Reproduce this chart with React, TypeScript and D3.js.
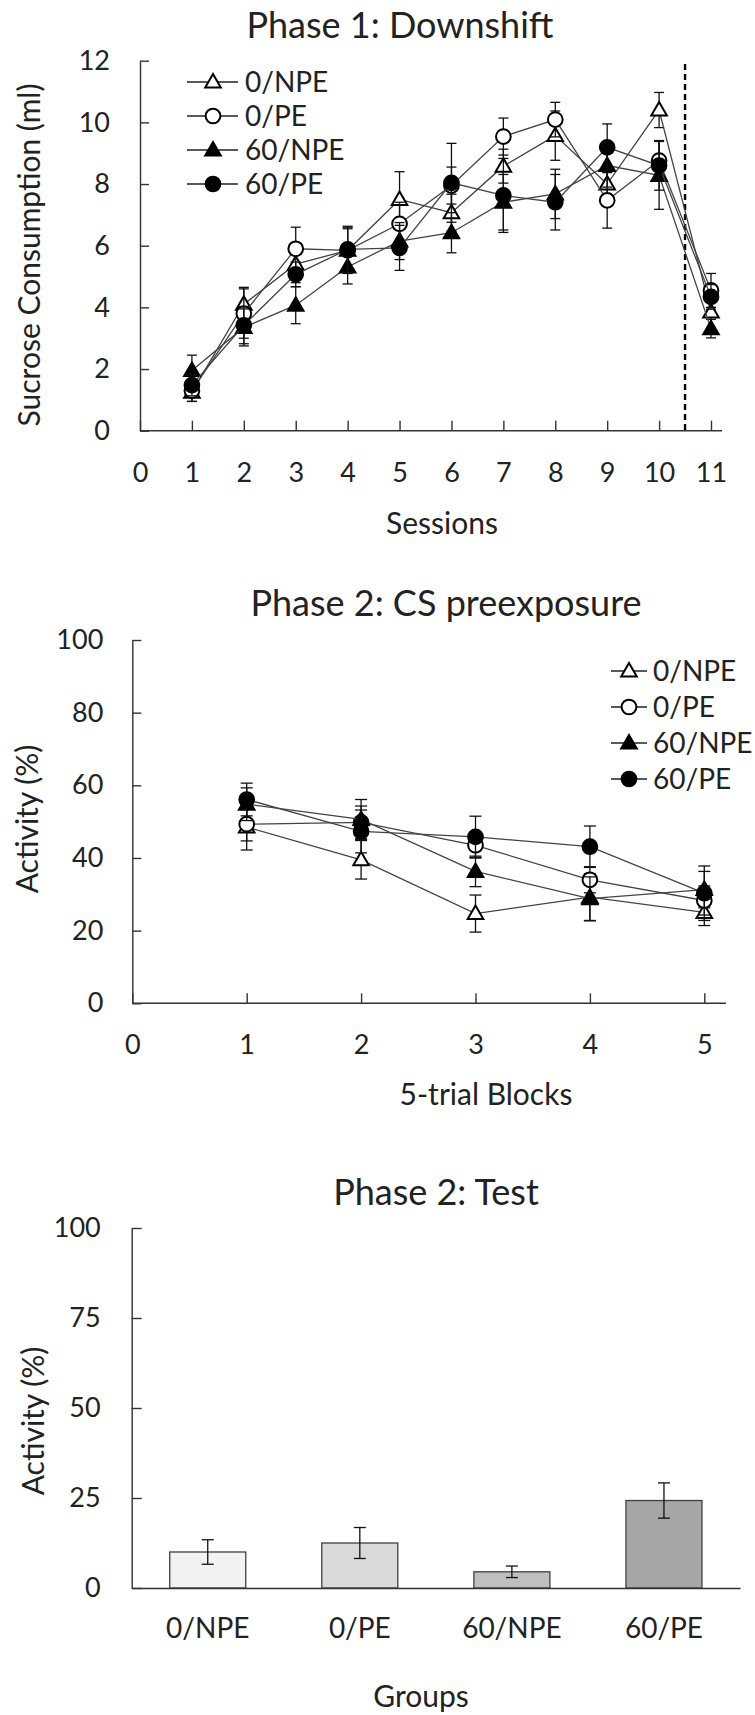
import React, { useEffect, useRef } from 'react';
import * as d3 from 'd3';

// groups / legend
const groups = ['0/NPE', '0/PE', '60/NPE', '60/PE'];
const markerShapes = ['triangle', 'circle', 'triangle', 'circle'];
const markerFilled = [false, false, true, true];

// Phase 1: Downshift (ml), sessions 1-11
const sessions = [1, 2, 3, 4, 5, 6, 7, 8, 9, 10, 11];
const sessionTicks = [0, 1, 2, 3, 4, 5, 6, 7, 8, 9, 10, 11];
const mlTicks = [0, 2, 4, 6, 8, 10, 12];
const down0NPE = [1.25, 4.1, 5.4, 5.85, 7.5, 7.07, 8.58, 9.57, 8.0, 10.4, 3.85];
const down0PE = [1.3, 3.8, 5.9, 5.85, 6.71, 7.95, 9.54, 10.09, 7.47, 8.76, 4.55];
const down60NPE = [1.95, 3.35, 4.07, 5.31, 6.15, 6.42, 7.41, 7.68, 8.6, 8.28, 3.31];
const down60PE = [1.48, 3.42, 5.07, 5.88, 5.93, 8.04, 7.63, 7.41, 9.19, 8.6, 4.34];
const downErr0NPE = [0.3, 0.55, 0.6, 0.75, 0.9, 0.6, 0.55, 0.8, 0.6, 0.57, 0.5];
const downErr0PE = [0.35, 0.8, 0.7, 0.7, 0.7, 0.6, 0.6, 0.56, 0.9, 0.65, 0.55];
const downErr60NPE = [0.5, 0.6, 0.6, 0.55, 0.6, 0.65, 0.9, 0.8, 0.7, 1.1, 0.3];
const downErr60PE = [0.35, 0.6, 0.4, 0.75, 0.73, 1.28, 1.2, 0.9, 0.76, 0.8, 0.4];

// Phase 2: CS preexposure (%), blocks 1-5
const blocks = [1, 2, 3, 4, 5];
const blockTicks = [0, 1, 2, 3, 4, 5];
const pctTicks = [0, 20, 40, 60, 80, 100];
const pre0NPE = [48.5, 39.5, 24.7, 29.2, 25];
const pre0PE = [49.3, 49.8, 43.5, 34, 28.3];
const pre60NPE = [54.8, 50.6, 36.3, 28.8, 31.3];
const pre60PE = [56.1, 47.3, 45.8, 43.1, 30.3];
const preErr0NPE = [6.3, 5.3, 5.1, 6.5, 3.6];
const preErr0PE = [4.6, 4.5, 3.5, 3.6, 4];
const preErr60NPE = [4.5, 5.5, 4.2, 6, 5];
const preErr60PE = [4.5, 5.9, 5.7, 5.7, 7.5];

// Phase 2: Test (%)
const testValues = [10, 12.5, 4.5, 24.3];
const testErrors = [3.4, 4.3, 1.6, 4.9];
const testTicks = [0, 25, 50, 75, 100];
const barColors = ['#f2f2f2', '#d9d9d9', '#bfbfbf', '#a6a6a6'];

const FONT = 'Lato, "Open Sans", sans-serif';
const INK = '#222';

function drawMarker(g, shape, filled, x, y) {
  const sym = shape === 'triangle' ? d3.symbolTriangle : d3.symbolCircle;
  const size = shape === 'triangle' ? 105 : 170;
  g.append('path')
    .attr('d', d3.symbol(sym, size)())
    .attr('transform', `translate(${x},${y + (shape === 'triangle' ? 1 : 0)})`)
    .attr('fill', filled ? '#000' : '#fff')
    .attr('stroke', '#000')
    .attr('stroke-width', 2);
}

function lineChart(svg, o) {
  const x = d3.scaleLinear().domain(o.xDomain).range([o.left, o.xEnd]);
  const y = d3.scaleLinear().domain(o.yDomain).range([o.bottom, o.top]);

  svg.append('text')
    .attr('x', o.titleX).attr('y', o.titleY).attr('dy', '0.35em')
    .attr('text-anchor', 'middle').attr('font-size', 36).attr('fill', INK)
    .text(o.title);

  // y axis, ticks inside
  const ya = svg.append('g')
    .attr('transform', `translate(${o.left},0)`)
    .call(d3.axisLeft(y).tickValues(o.yTicks).tickFormat(d3.format('d'))
      .tickSizeInner(-9).tickSizeOuter(0).tickPadding(o.yPad));
  ya.select('.domain').attr('stroke', '#333').attr('stroke-width', 1.4);
  ya.selectAll('.tick line').attr('stroke', '#333').attr('stroke-width', 1.4);
  ya.selectAll('text').attr('font-size', 27).attr('font-family', FONT).attr('fill', INK);

  // x axis, ticks inside
  const xa = svg.append('g')
    .attr('transform', `translate(0,${o.bottom})`)
    .call(d3.axisBottom(x).tickValues(o.xTicks).tickFormat(d3.format('d'))
      .tickSizeInner(-10).tickSizeOuter(0).tickPadding(32));
  xa.select('.domain').remove();
  xa.selectAll('.tick line').attr('stroke', '#333').attr('stroke-width', 1.4);
  xa.selectAll('text').attr('font-size', 27).attr('font-family', FONT).attr('fill', INK);
  svg.append('line')
    .attr('x1', o.left).attr('x2', o.axisEnd)
    .attr('y1', o.bottom).attr('y2', o.bottom)
    .attr('stroke', '#333').attr('stroke-width', 1.4);

  svg.append('text')
    .attr('transform', `translate(${o.yLabelX},${o.yLabelY}) rotate(-90)`)
    .attr('dy', '0.35em').attr('text-anchor', 'middle')
    .attr('font-size', 30).attr('fill', INK).text(o.yLabel);
  svg.append('text')
    .attr('x', o.xLabelX).attr('y', o.xLabelY).attr('dy', '0.35em')
    .attr('text-anchor', 'middle').attr('font-size', 30).attr('fill', INK).text(o.xLabel);

  if (o.dashAt != null) {
    svg.append('line')
      .attr('x1', x(o.dashAt)).attr('x2', x(o.dashAt))
      .attr('y1', o.dashTop).attr('y2', o.bottom)
      .attr('stroke', '#000').attr('stroke-width', 2.4).attr('stroke-dasharray', '6,4');
  }

  const line = d3.line().x((d) => x(d[0])).y((d) => y(d[1]));
  o.series.forEach((vals, si) => {
    const g = svg.append('g');
    vals.forEach((v, i) => {
      const cx = x(o.xs[i]);
      const e = o.errors[si][i];
      g.append('line').attr('x1', cx).attr('x2', cx).attr('y1', y(v - e)).attr('y2', y(v + e))
        .attr('stroke', '#111').attr('stroke-width', 1.3);
      [v - e, v + e].forEach((w) => {
        g.append('line').attr('x1', cx - o.cap).attr('x2', cx + o.cap).attr('y1', y(w)).attr('y2', y(w))
          .attr('stroke', '#111').attr('stroke-width', 1.3);
      });
    });
    g.append('path')
      .datum(vals.map((v, i) => [o.xs[i], v]))
      .attr('d', line).attr('fill', 'none').attr('stroke', '#444').attr('stroke-width', 1.3);
    vals.forEach((v, i) => drawMarker(g, markerShapes[si], markerFilled[si], x(o.xs[i]), y(v)));
  });

  // legend
  groups.forEach((name, i) => {
    const ly = o.legendY + i * o.legendStep;
    const g = svg.append('g');
    g.append('line').attr('x1', o.legendX0).attr('x2', o.legendX1).attr('y1', ly).attr('y2', ly)
      .attr('stroke', '#222').attr('stroke-width', 1.3);
    drawMarker(g, markerShapes[i], markerFilled[i], o.legendM, ly);
    g.append('text').attr('x', o.legendT).attr('y', ly).attr('dy', '0.35em')
      .attr('font-size', 28).attr('fill', INK).text(name);
  });
}

function barChart(svg) {
  const left = 131.7, right = 740, bottom = 1588, top = 1228;
  const x = d3.scaleBand().domain(groups).range([left, right]).paddingInner(0.5).paddingOuter(0.25);
  const y = d3.scaleLinear().domain([0, 100]).range([bottom, top]);

  svg.append('text')
    .attr('x', 436).attr('y', 1192).attr('dy', '0.35em')
    .attr('text-anchor', 'middle').attr('font-size', 36).attr('fill', INK)
    .text('Phase 2: Test');

  svg.append('g').selectAll('rect').data(testValues).join('rect')
    .attr('x', (d, i) => x(groups[i]))
    .attr('y', (d) => y(d))
    .attr('width', x.bandwidth())
    .attr('height', (d) => y(0) - y(d))
    .attr('fill', (d, i) => barColors[i])
    .attr('stroke', '#404040').attr('stroke-width', 1.3);

  testValues.forEach((v, i) => {
    const cx = x(groups[i]) + x.bandwidth() / 2;
    const e = testErrors[i];
    svg.append('line').attr('x1', cx).attr('x2', cx).attr('y1', y(v - e)).attr('y2', y(v + e))
      .attr('stroke', '#111').attr('stroke-width', 1.3);
    [v - e, v + e].forEach((w) => {
      svg.append('line').attr('x1', cx - 6).attr('x2', cx + 6).attr('y1', y(w)).attr('y2', y(w))
        .attr('stroke', '#111').attr('stroke-width', 1.3);
    });
  });

  const ya = svg.append('g')
    .attr('transform', `translate(${left},0)`)
    .call(d3.axisLeft(y).tickValues(testTicks).tickSizeInner(-10).tickSizeOuter(0).tickPadding(31));
  ya.select('.domain').attr('stroke', '#333').attr('stroke-width', 1.4);
  ya.selectAll('.tick line').attr('stroke', '#333').attr('stroke-width', 1.4);
  ya.selectAll('text').attr('font-size', 27).attr('font-family', FONT).attr('fill', INK);

  const xa = svg.append('g')
    .attr('transform', `translate(0,${bottom})`)
    .call(d3.axisBottom(x).tickSize(0).tickPadding(30));
  xa.select('.domain').attr('stroke', '#333').attr('stroke-width', 1.4);
  xa.selectAll('text').attr('font-size', 28).attr('font-family', FONT).attr('fill', INK);

  svg.append('text')
    .attr('transform', 'translate(33,1421) rotate(-90)')
    .attr('dy', '0.35em').attr('text-anchor', 'middle')
    .attr('font-size', 30).attr('fill', INK).text('Activity (%)');
  svg.append('text')
    .attr('x', 421).attr('y', 1696).attr('dy', '0.35em')
    .attr('text-anchor', 'middle').attr('font-size', 30).attr('fill', INK).text('Groups');
}

export default function App() {
  const ref = useRef(null);

  useEffect(() => {
    const svg = d3.select(ref.current);
    svg.selectAll('*').remove();

    lineChart(svg, {
      title: 'Phase 1: Downshift', titleX: 400, titleY: 25,
      xDomain: [0, 11], yDomain: [0, 12], left: 140, xEnd: 711, axisEnd: 722,
      bottom: 430.7, top: 60.7, xTicks: sessionTicks, yTicks: mlTicks, yPad: 30,
      yLabel: 'Sucrose Consumption (ml)', yLabelX: 29, yLabelY: 255,
      xLabel: 'Sessions', xLabelX: 442, xLabelY: 523,
      dashAt: 10.5, dashTop: 64,
      xs: sessions, cap: 5,
      series: [down0NPE, down0PE, down60NPE, down60PE],
      errors: [downErr0NPE, downErr0PE, downErr60NPE, downErr60PE],
      legendY: 82, legendStep: 34, legendX0: 187, legendX1: 238, legendM: 213, legendT: 245,
    });

    lineChart(svg, {
      title: 'Phase 2: CS preexposure', titleX: 446, titleY: 603,
      xDomain: [0, 5], yDomain: [0, 100], left: 132.3, xEnd: 704.3, axisEnd: 726,
      bottom: 1003.3, top: 640, xTicks: blockTicks, yTicks: pctTicks, yPad: 29,
      yLabel: 'Activity (%)', yLabelX: 27, yLabelY: 819,
      xLabel: '5-trial Blocks', xLabelX: 486, xLabelY: 1094,
      dashAt: null,
      xs: blocks, cap: 6,
      series: [pre0NPE, pre0PE, pre60NPE, pre60PE],
      errors: [preErr0NPE, preErr0PE, preErr60NPE, preErr60PE],
      legendY: 671, legendStep: 36, legendX0: 611, legendX1: 647, legendM: 629, legendT: 653,
    });

    barChart(svg);
  }, []);

  return (
    <svg
      ref={ref}
      width={755}
      height={1715}
      style={{ position: 'absolute', left: 0, top: 0, background: '#fff', fontFamily: FONT }}
    />
  );
}
